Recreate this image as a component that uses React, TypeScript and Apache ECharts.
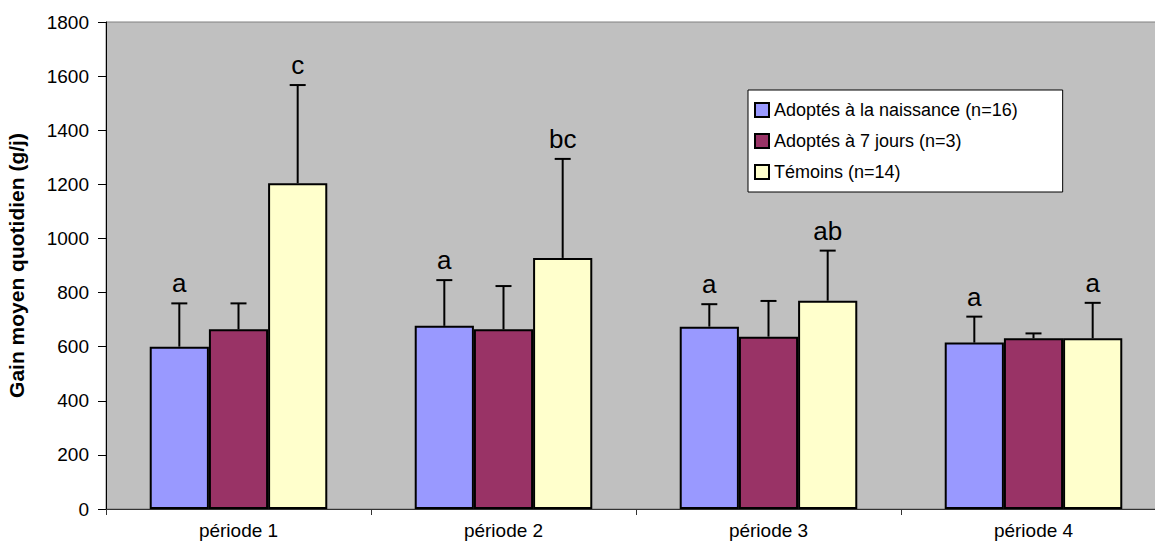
import React, { useEffect, useRef } from "react";
import * as echarts from "echarts";

const categories = ["période 1", "période 2", "période 3", "période 4"];
const seriesNames = [
  "Adoptés à la naissance (n=16)",
  "Adoptés à 7 jours (n=3)",
  "Témoins (n=14)",
];
const naissance = [600, 677, 674, 615];
const septJours = [664, 664, 637, 631];
const temoins = [1204, 928, 770, 631];

const naissanceErr = [160, 169, 83, 96];
const septJoursErr = [96, 160, 132, 18];
const temoinsErr = [363, 366, 185, 131];

const naissanceLetters = ["a", "a", "a", "a"];
const septJoursLetters = ["", "", "", ""];
const temoinsLetters = ["c", "bc", "ab", "a"];

const yTicks = { min: 0, max: 1800, interval: 200 };

const colors = ["#9999FF", "#993366", "#FFFFCC"];
const FONT = "'Liberation Sans', Arial, sans-serif";
const GAP = 0.33;

export default function App() {
  const ref = useRef<HTMLDivElement>(null);

  useEffect(() => {
    if (!ref.current) return;
    const chart = echarts.init(ref.current, undefined, { renderer: "svg" });
    const values = [naissance, septJours, temoins];
    const errs = [naissanceErr, septJoursErr, temoinsErr];
    const letters = [naissanceLetters, septJoursLetters, temoinsLetters];

    const errData: number[][] = [];
    values.forEach((arr, s) =>
      arr.forEach((v, c) => errData.push([c, v, errs[s][c], s]))
    );

    chart.setOption({
      animation: false,
      textStyle: { fontFamily: FONT },
      grid: {
        left: 106,
        top: 22,
        width: 1060,
        height: 487,
        containLabel: false,
        outerBoundsMode: "none",
        show: true,
        backgroundColor: "#C0C0C0",
        borderColor: "#808080",
        borderWidth: 1,
      },
      legend: {
        data: seriesNames,
        orient: "vertical",
        left: 748,
        top: 90,
        backgroundColor: "#FFFFFF",
        borderColor: "#000000",
        borderWidth: 1,
        padding: [11, 45, 11, 6],
        itemWidth: 14,
        itemHeight: 14,
        itemGap: 13,
        icon: "rect",
        itemStyle: { borderColor: "#000", borderWidth: 2 },
        textStyle: { fontSize: 18, color: "#000", fontFamily: FONT },
      },
      xAxis: {
        type: "category",
        data: categories,
        axisLine: { lineStyle: { color: "#333", width: 1 } },
        axisTick: { show: true, length: 6, lineStyle: { color: "#333" } },
        axisLabel: { fontSize: 19, color: "#000", margin: 12, fontFamily: FONT },
        splitLine: { show: false },
      },
      yAxis: {
        type: "value",
        min: yTicks.min,
        max: yTicks.max,
        interval: yTicks.interval,
        name: "Gain moyen quotidien (g/j)",
        nameLocation: "middle",
        nameRotate: 90,
        nameGap: 79,
        nameTextStyle: { fontSize: 21, fontWeight: "bold", color: "#000", fontFamily: FONT },
        axisLine: { show: true, lineStyle: { color: "#000", width: 1 } },
        axisTick: { show: true, length: 8, lineStyle: { color: "#000" } },
        axisLabel: {
          fontSize: 19,
          color: "#000",
          margin: 17,
          fontFamily: FONT,
          formatter: (v: number) => String(v),
        },
        splitLine: { show: false },
      },
      series: [
        ...values.map((arr, s) => ({
          type: "bar",
          name: seriesNames[s],
          data: arr,
          barGap: "0%",
          barCategoryGap: GAP * 100 + "%",
          itemStyle: { color: colors[s], borderColor: "#000", borderWidth: 2 },
        })),
        {
          type: "custom",
          name: "errors",
          data: errData,
          z: 10,
          encode: { x: 0, y: 1 },
          renderItem: (params: any, api: any) => {
            const c = api.value(0);
            const mean = api.value(1);
            const err = api.value(2);
            const s = api.value(3);
            const band = api.size([1, 0])[0];
            const barW = (band * (1 - GAP)) / 3;
            const base = api.coord([c, mean]);
            const top = api.coord([c, mean + err]);
            const x = base[0] + (s - 1) * barW;
            const children: any[] = [
              {
                type: "line",
                shape: { x1: x, y1: base[1], x2: x, y2: top[1] },
                style: { stroke: "#000", lineWidth: 2 },
              },
              {
                type: "line",
                shape: { x1: x - 8, y1: top[1], x2: x + 8, y2: top[1] },
                style: { stroke: "#000", lineWidth: 2 },
              },
            ];
            const letter = letters[s][c];
            if (letter) {
              children.push({
                type: "text",
                style: {
                  text: letter,
                  x,
                  y: top[1] - 7,
                  align: "center",
                  verticalAlign: "bottom",
                  fontSize: 26,
                  fontFamily: FONT,
                  fill: "#000",
                },
              });
            }
            return { type: "group", children };
          },
        },
      ],
    });
    return () => chart.dispose();
  }, []);

  return (
    <div
      ref={ref}
      style={{ position: "absolute", left: 0, top: 0, width: 1155, height: 550, background: "#fff" }}
    />
  );
}
